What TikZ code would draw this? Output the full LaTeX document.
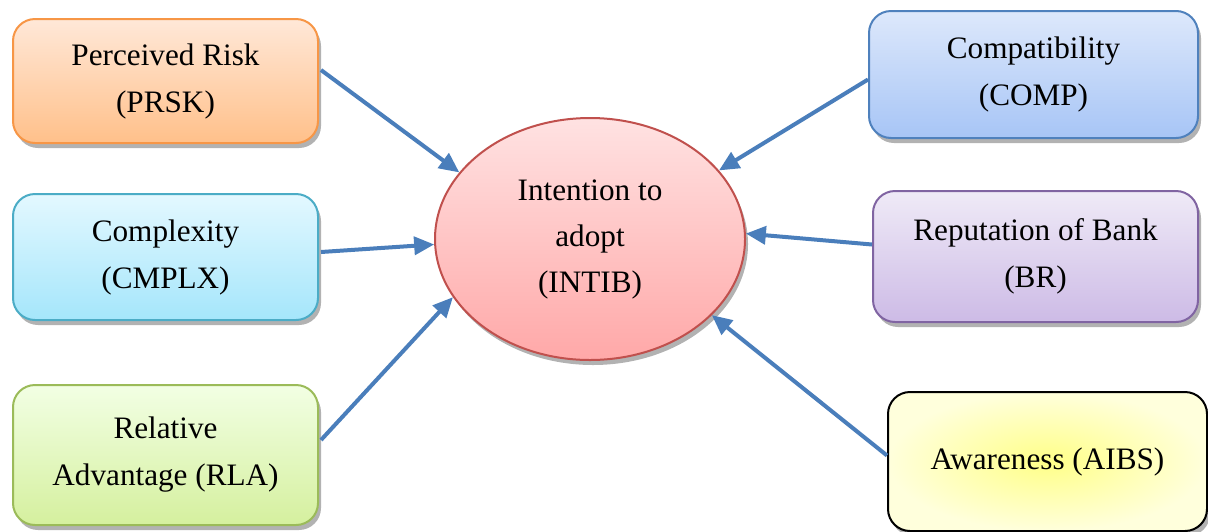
\documentclass[tikz,border=0pt]{standalone}
\usepackage{fontspec}
\setmainfont{Liberation Serif}
\usetikzlibrary{shapes.geometric,shadows,arrows.meta,calc}
\definecolor{arr}{RGB}{74,126,187}
\definecolor{orB}{HTML}{F79646}\definecolor{orT}{HTML}{FFE8D8}\definecolor{orD}{HTML}{FFC08A}
\definecolor{cyB}{HTML}{4BACC6}\definecolor{cyT}{HTML}{E3F8FF}\definecolor{cyD}{HTML}{A5E6FB}
\definecolor{grB}{HTML}{9BBB59}\definecolor{grT}{HTML}{F2FFE4}\definecolor{grD}{HTML}{D5F09E}
\definecolor{blB}{HTML}{4F81BD}\definecolor{blT}{HTML}{DDE8FB}\definecolor{blD}{HTML}{A7C5F6}
\definecolor{puB}{HTML}{8064A2}\definecolor{puT}{HTML}{EFEAF7}\definecolor{puD}{HTML}{CDBBE6}
\definecolor{reB}{HTML}{C0504D}\definecolor{reT}{HTML}{FFE2E2}\definecolor{reD}{HTML}{FFA8A8}
\definecolor{yeI}{HTML}{FFFF88}\definecolor{yeO}{HTML}{FFFFDC}
\tikzset{
  x=0.5pt, y=-0.5pt,
  box/.style={rectangle, rounded corners=11pt, line width=1pt, align=center,
    inner sep=0pt, font=\fontsize{15.6}{23.5}\selectfont,
    drop shadow={shadow xshift=1.5pt, shadow yshift=-2.5pt, opacity=0.3, fill=black}},
  conn/.style={draw=arr, line width=2pt, -{Triangle[length=10pt,width=9pt]}},
}
\begin{document}
\begin{tikzpicture}
\useasboundingbox (0,0) rectangle (1208,531);
\node[box, draw=orB, top color=orT, bottom color=orD, minimum width=152.5pt, minimum height=62pt]
  (prsk) at (165.5,81) {Perceived Risk\\(PRSK)};
\node[box, draw=cyB, top color=cyT, bottom color=cyD, minimum width=152.5pt, minimum height=63pt]
  (cmplx) at (165.5,257) {Complexity\\(CMPLX)};
\node[box, draw=grB, top color=grT, bottom color=grD, minimum width=152.5pt, minimum height=70pt]
  (rla) at (165.5,455) {Relative\\Advantage (RLA)};
\node[box, draw=blB, top color=blT, bottom color=blD, minimum width=164.5pt, minimum height=63.5pt]
  (comp) at (1033.5,74.5) {Compatibility\\(COMP)};
\node[box, draw=puB, top color=puT, bottom color=puD, minimum width=162.5pt, minimum height=65.5pt]
  (br) at (1035.5,256.5) {Reputation of Bank\\(BR)};
\node[box, draw=black, inner color=yeI, outer color=yeO, minimum width=159.5pt, minimum height=69.5pt]
  (aibs) at (1047.5,461.5) {Awareness (AIBS)};
\node[ellipse, draw=reB, line width=1pt, top color=reT, bottom color=reD,
  minimum width=155pt, minimum height=121pt, inner sep=0pt, align=center,
  font=\fontsize{15.6}{23}\selectfont,
  drop shadow={shadow xshift=1.5pt, shadow yshift=-2.5pt, opacity=0.3, fill=black}]
  (intib) at (590,239) {Intention to\\adopt\\(INTIB)};
\draw[conn] ($(prsk.east)+(2,-11)$) -- (intib.153);
\draw[conn] ($(cmplx.east)+(2,-5)$) -- (intib.182);
\draw[conn] ($(rla.east)+(2,-15)$) -- (intib.203);
\draw[conn] ($(comp.west)+(0,5)$) -- (intib.28);
\draw[conn] ($(br.west)+(0,-12)$) -- (intib.2);
\draw[conn] ($(aibs.west)+(0,-6)$) -- (intib.-32);
\end{tikzpicture}
\end{document}
